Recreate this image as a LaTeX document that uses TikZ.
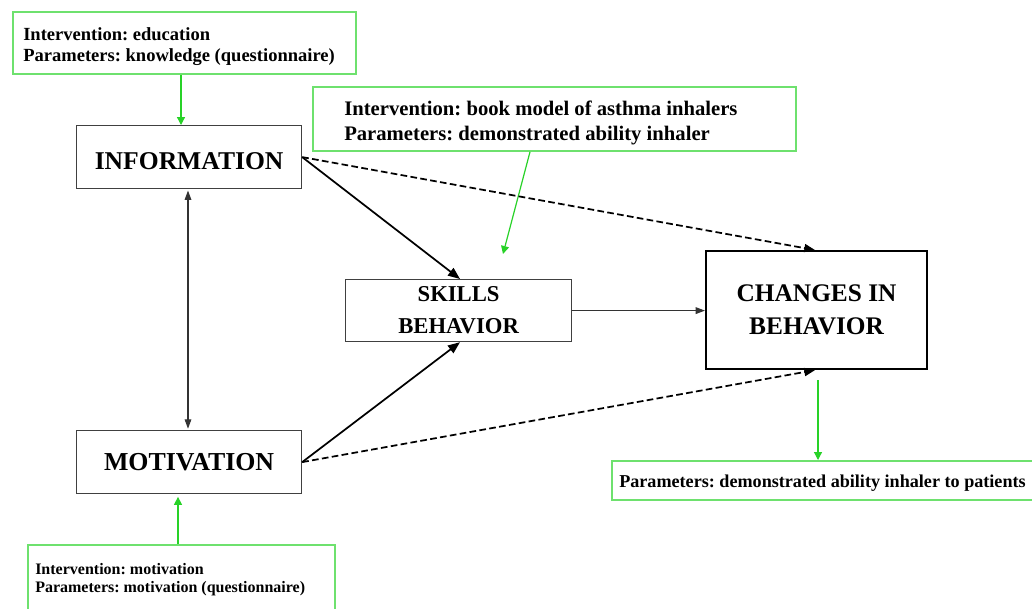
\documentclass[tikz,border=0pt]{standalone}
\usepackage{fontspec}
\setmainfont{Liberation Serif}
\frenchspacing
\usetikzlibrary{arrows.meta}
\definecolor{gline}{RGB}{110,225,110}
\definecolor{garrow}{RGB}{40,210,40}
\begin{document}
\begin{tikzpicture}[x=0.75pt,y=-0.75pt,
  gbox/.style={draw=gline, line width=1.4pt, fill=white, anchor=north west, inner sep=0pt},
  gtext/.style={anchor=west, inner sep=0pt, align=left},
  bbox/.style={draw=black!75, line width=0.9pt, fill=white, anchor=north west, inner sep=0pt, align=center},
  garr/.style={draw=garrow, line width=0.9pt, -{Triangle[length=6pt,width=6pt]}},
  sarr/.style={draw=black, line width=1.3pt, -{Triangle[length=9pt,width=7pt]}},
  darr/.style={draw=black, line width=1.3pt, dash pattern=on 5pt off 2.5pt, -{Triangle[length=8pt,width=6pt]}},
  tarr/.style={draw=black!80, line width=0.8pt, -{Triangle[length=7pt,width=5pt]}}
]
\useasboundingbox (0,0) rectangle (1032,608);
\clip (0,0) rectangle (1032,608);
\fill[white] (0,0) rectangle (1032,608);

% green boxes
\node[gbox, minimum width=343*0.75pt, minimum height=62*0.75pt] (edu) at (12,11) {};
\node[gtext, font={\bfseries\fontsize{13.9}{15.8}\selectfont}] (edu-t) at (23,47)
  {Intervention: education\\Parameters: knowledge (questionnaire)};
\node[gbox, minimum width=483*0.75pt, minimum height=64*0.75pt] (book) at (312,86) {};
\node[gtext, font={\bfseries\fontsize{15.5}{18.8}\selectfont}] (book-t) at (344,122.5)
  {Intervention: book model of asthma inhalers\\Parameters: demonstrated ability inhaler};
\node[gbox, minimum width=307*0.75pt, minimum height=68*0.75pt] (mot) at (27,544) {};
\node[gtext, font={\bfseries\fontsize{12}{13.5}\selectfont}] (mot-t) at (35,580)
  {Intervention: motivation\\Parameters: motivation (questionnaire)};
\node[gbox, minimum width=440*0.75pt, minimum height=39*0.75pt] (par) at (611,460) {};
\node[gtext, font={\bfseries\fontsize{13.6}{15}\selectfont}] (par-t) at (619,483.5)
  {Parameters: demonstrated ability inhaler to patients};

% black boxes
\node[bbox, minimum width=225*0.75pt, minimum height=63*0.75pt, text height=18.5pt, text depth=0pt,
  font={\bfseries\fontsize{19.2}{23}\selectfont}] (info) at (76,125) {INFORMATION};
\node[bbox, minimum width=225*0.75pt, minimum height=63*0.75pt,
  font={\bfseries\fontsize{19.4}{23}\selectfont}] (moti) at (76,430) {MOTIVATION};
\node[bbox, minimum width=226*0.75pt, minimum height=62*0.75pt,
  font={\bfseries\fontsize{17}{24}\selectfont}] (skill) at (345,279) {SKILLS\\BEHAVIOR};
\node[bbox, draw=black, line width=1.6pt, minimum width=221*0.75pt, minimum height=118*0.75pt,
  font={\bfseries\fontsize{19}{24.75}\selectfont}] (chg) at (705,250) {CHANGES IN\\BEHAVIOR};

% coordinates
\coordinate (bookend) at (503,254);
\coordinate (chgbot) at (818,380);

% green arrows
\draw[garr] (edu.south -| 181,0) -- (info.north -| 181,0);
\draw[garr] (mot.north -| 178,0) -- ([yshift=-2pt]moti.south -| 178,0);
\draw[garr] (book.south -| 530,0) -- (bookend);
\draw[garr] (chgbot) -- (par.north -| 818,0);

% black connectors
\draw[tarr, {Triangle[length=7pt,width=5pt]}-{Triangle[length=7pt,width=5pt]}] ([yshift=-1pt]info.south -| 188,0) -- ([yshift=1pt]moti.north -| 188,0);
\draw[sarr] (info.east) -- (skill.north -| 460,0);
\draw[sarr] (moti.east) -- (skill.south -| 460,0);
\draw[darr] (info.east) -- (chg.north -| 815,0);
\draw[darr] (moti.east) -- (chg.south -| 815,0);
\draw[tarr] (skill.east) -- (chg.west |- skill.east);
\end{tikzpicture}
\end{document}
